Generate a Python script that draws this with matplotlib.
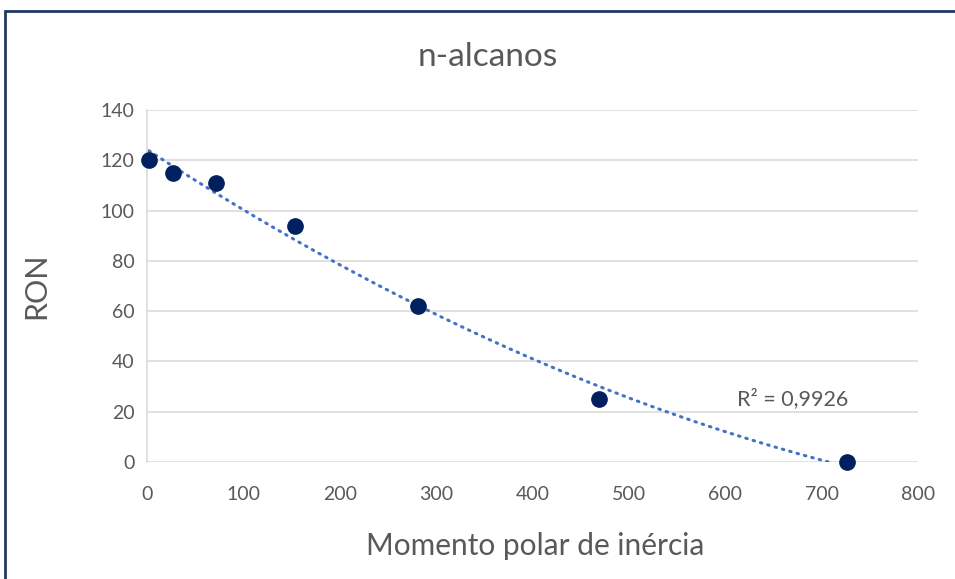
import numpy as np
import matplotlib
matplotlib.use("Agg")
import matplotlib.pyplot as plt
from matplotlib.patches import Rectangle

# n-alkanes: polar moment of inertia vs research octane number
momento = [2, 27, 72, 154, 281, 469, 726]
ron = [120, 115, 111, 94, 62, 25, 0]
r2_label = "R² = 0,9926"

x_ticks = [0, 100, 200, 300, 400, 500, 600, 700, 800]
y_ticks = [0, 20, 40, 60, 80, 100, 120, 140]

TEXT = "#595959"
GRID = "#D9D9D9"
MARKER = "#002060"
TREND = "#4472C4"

plt.rcParams["font.family"] = ["Lato", "DejaVu Sans"]

fig = plt.figure(figsize=(9.55, 5.79), dpi=100)
ax = fig.add_axes([0.1539, 0.2021, 0.8074, 0.6079])

# quadratic trendline across the data range
coef = np.polyfit(momento, ron, 2)
xs = np.linspace(min(momento), max(momento), 300)
ax.plot(xs, np.polyval(coef, xs), color=TREND, lw=2.2,
        linestyle=(0, (0.5, 2.0)), dash_capstyle="round", zorder=2)

ax.plot(momento, ron, "o", color=MARKER, markersize=11, zorder=3,
        clip_on=False)

ax.set_xlim(0, 800)
ax.set_ylim(0, 140)
ax.set_xticks(x_ticks)
ax.set_yticks(y_ticks)
ax.grid(axis="y", color=GRID, lw=1.1)
ax.set_axisbelow(True)
for side in ["top", "right", "bottom"]:
    ax.spines[side].set_visible(False)
ax.spines["left"].set_color(GRID)
ax.spines["left"].set_linewidth(1.1)
ax.tick_params(length=0, labelsize=14, labelcolor=TEXT)
ax.tick_params(axis="x", pad=17)
ax.tick_params(axis="y", pad=9)

ax.set_xlabel("Momento polar de inércia", fontsize=21.5, color=TEXT,
              va="center")
ax.xaxis.set_label_coords(0.5 * (955 - 147 - 37) / 771 + 0.003, -0.2386)
ax.set_ylabel("RON", fontsize=22, color=TEXT, va="center")
ax.yaxis.set_label_coords(-0.144, 0.5)
fig.text(0.5105, 0.902, "n-alcanos", ha="center", va="center",
         fontsize=24, color=TEXT)

ax.text(670, 25, r2_label, ha="center", va="center", fontsize=15.5,
        color=TEXT)

# chart area border
fig.patches.append(Rectangle((5 / 955, -0.1), 1.2, 1 - 11 / 579 + 0.1,
                             transform=fig.transFigure, fill=False,
                             edgecolor="#1F3864", lw=2.0))

fig.savefig("out.png", dpi=100)
